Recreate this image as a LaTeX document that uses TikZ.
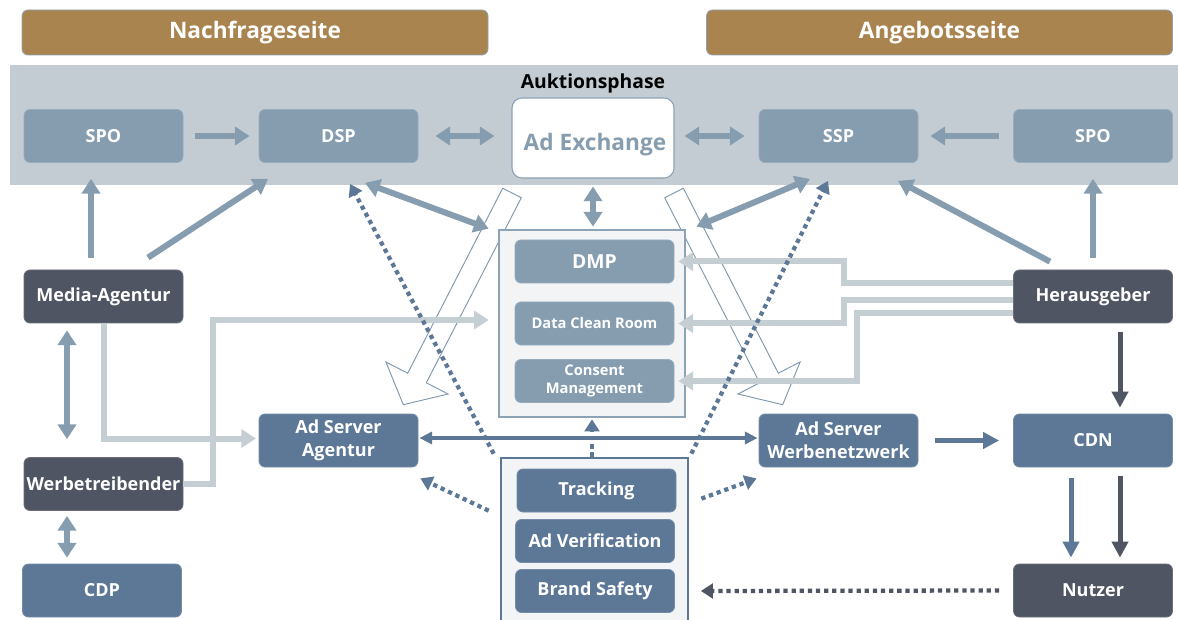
\documentclass[tikz,border=0pt]{standalone}
\usepackage{fontspec}
\setmainfont{Open Sans}
\usetikzlibrary{arrows.meta,calc}
\definecolor{hdrbrown}{HTML}{A9844F}
\definecolor{bandgray}{HTML}{C3CCD2}
\definecolor{midblue}{HTML}{869DB0}
\definecolor{steel}{HTML}{5C7896}
\definecolor{slate}{HTML}{4F5562}
\definecolor{lightarrow}{HTML}{C5CED3}
\definecolor{grpfill}{HTML}{F2F4F6}
\definecolor{grpline}{HTML}{8CA2B5}
\definecolor{hollowline}{HTML}{7F98AD}
\tikzset{
  box/.style={rounded corners=4.5pt, minimum width=119.25pt, minimum height=39.75pt,
    inner sep=0pt, text=white, align=center, draw=#1!85!white, line width=0.6pt, fill=#1,
    font=\bfseries\fontsize{13.5}{17.5}\selectfont},
  smallbox/.style={box=#1, minimum height=32.25pt},
  hdr/.style={rounded corners=4.5pt, minimum width=349.5pt, minimum height=33.75pt,
    fill=hdrbrown, draw=grpline, line width=0.6pt, text=white,
    font=\bfseries\fontsize{17}{20}\selectfont},
  grp/.style={fill=grpfill, draw=#1, line width=2pt, inner sep=0pt},
  arrA/.style={draw=midblue, line width=4.5pt, -{Triangle[width=13.5pt,length=11pt]}},
  arrAA/.style={draw=midblue, line width=4.5pt, {Triangle[width=13.5pt,length=11pt]}-{Triangle[width=13.5pt,length=11pt]}},
  arrG/.style={draw=lightarrow, line width=4.5pt, -{Triangle[width=13.5pt,length=11pt]}},
  arrD/.style={draw=slate, line width=3.75pt, -{Triangle[width=12pt,length=12pt]}},
  arrS/.style={draw=steel, line width=3.75pt, -{Triangle[width=12pt,length=12pt]}},
  arrT/.style={draw=steel, line width=2.7pt, {Triangle[width=9pt,length=9.5pt]}-{Triangle[width=9pt,length=9.5pt]}},
  dotarr/.style={draw=#1, line width=3.2pt, dash pattern=on 3.2pt off 2.9pt, -{Triangle[width=11pt,length=9pt]}},
  hollow/.style={draw=hollowline, line width=0.7pt, fill=white},
}
\begin{document}
\begin{tikzpicture}[x=0.75pt,y=-0.75pt]
\useasboundingbox (0,0) rectangle (1178,620);
\fill[white] (0,0) rectangle (1178,620);

% auction band and side headers
\fill[bandgray] (10,65) rectangle (1178,185);
\node[hdr] (hdrL) at (255,32.5) {Nachfrageseite};
\node[hdr] (hdrR) at (939.5,32.5) {Angebotsseite};
\node[font=\bfseries\fontsize{14.5}{17}\selectfont, text=black] (auk) at (593,83) {Auktionsphase};

% open block arrows from the exchange
\draw[hollow] (502.7,188.2) -- (407.7,373.2) -- (385.9,362) -- (403.3,404.7)
  -- (448.1,394) -- (426.3,382.8) -- (521.3,197.8) -- cycle;
\draw[hollow] (683.3,188.2) -- (778.3,373.2) -- (800.1,362) -- (782.7,404.7)
  -- (737.9,394) -- (759.7,382.8) -- (664.7,197.8) -- cycle;

% group frames
\node[grp=grpline, minimum width=139.5pt, minimum height=140.25pt] (dmpgrp) at (592,323.5) {};
\node[grp=steel, minimum width=140.25pt, minimum height=129pt] (trkgrp) at (594.5,544) {};

% auction row
\node[box=midblue] (spoL) at (103.5,136) {SPO};
\node[box=midblue] (dsp) at (338.5,136) {DSP};
\node[rounded corners=7.5pt, minimum width=121.5pt, minimum height=60pt, fill=white,
  draw=grpline, line width=0.8pt] (adex) at (593,138) {};
\node[text=midblue, font=\bfseries\fontsize{17}{20}\selectfont] (adextxt)
  at ($(adex.center)+(2,7)$) {Ad Exchange};
\node[box=midblue] (ssp) at (838.5,136) {SSP};
\node[box=midblue] (spoR) at (1093,136) {SPO};

% demand side actors
\node[box=slate] (media) at (103.5,296.5) {Media-Agentur};
\node[box=slate] (werb) at (103.5,484) {Werbetreibender};
\node[box=steel] (cdp) at (102,590.5) {CDP};
\node[box=steel] (asa) at (338.5,440.5) {Ad Server\\Agentur};

% supply side actors
\node[box=steel] (asw) at (838.5,440.5) {Ad Server\\Werbenetzwerk};
\node[box=steel] (cdn) at (1093,440.5) {CDN};
\node[box=slate] (her) at (1093,296.5) {Herausgeber};
\node[box=slate] (nutzer) at (1093,590.5) {Nutzer};

% data services
\node[smallbox=midblue, font=\bfseries\fontsize{14.5}{17}\selectfont] (dmp) at (594.5,261.5) {DMP};
\node[smallbox=midblue, font=\bfseries\fontsize{11}{14}\selectfont] (dcr) at (594.5,323.5) {Data Clean Room};
\node[smallbox=midblue, font=\bfseries\fontsize{11}{14}\selectfont] (cons) at (594.5,381) {Consent\\Management};

% measurement services
\node[smallbox=steel, font=\bfseries\fontsize{13.5}{17}\selectfont] (trk) at (596.5,490.5) {Tracking};
\node[smallbox=steel, font=\bfseries\fontsize{13.5}{17}\selectfont] (aver) at (595,541) {Ad Verification};
\node[smallbox=steel, font=\bfseries\fontsize{13.5}{17}\selectfont] (bsafe) at (595,591) {Brand Safety};

% data feeds
\draw[arrG, shorten >=2pt] (media.south) |- ($(asa.west)+(0,-2)$);
\draw[arrG, shorten >=6.75pt] (werb.east) -- ++(30,0) |- ($(dmpgrp.west)+(0,-3.5)$);
\draw[arrG, shorten >=3pt] ($(her.west)+(0,-13.5)$) -| ($(dmp.east)+(170,0)$) -- (dmp.east);
\draw[arrG, shorten >=3pt] ($(her.west)+(0,3.5)$) -| ($(dcr.east)+(170,0)$) -- (dcr.east);
\draw[arrG, shorten >=3pt] ($(her.west)+(0,16.5)$) -| ($(cons.east)+(183,0)$) -- (cons.east);

% auction flows
\draw[arrA, shorten <=9pt, shorten >=6.75pt] (spoL.east) -- (dsp.west);
\draw[arrAA, shorten <=12.75pt, shorten >=12.75pt] (dsp.east) -- (dsp.east -| adex.west);
\draw[arrAA, shorten <=7.5pt, shorten >=10.5pt] (ssp.west -| adex.east) -- (ssp.west);
\draw[arrA, shorten <=10.5pt, shorten >=9pt] (spoR.west) -- (ssp.east);
\draw[arrA] ($(media.north)+(-12.5,-12)$) -- ($(spoL.south)+(-12.5,16)$);
\draw[arrA] ($(media.north)+(44.5,-12)$) -- ($(dsp.south)+(-70.5,16)$);
\draw[arrAA] ($(media.south)+(-36.5,7)$) -- ($(werb.north)+(-36.5,-18)$);
\draw[arrAA] ($(werb.south)+(-36.5,5)$) -- ($(cdp.north)+(-35,-6)$);
\draw[arrAA] ($(dsp.south)+(26.5,20)$) -- ($(dmpgrp.north west)+(-9,0)$);
\draw[arrAA] ($(ssp.south)+(-28.5,16)$) -- ($(dmpgrp.north east)+(10,-2)$);
\draw[arrAA, shorten <=6pt, shorten >=1.5pt] (adex.south) -- (adex.south |- dmpgrp.north);
\draw[arrA] ($(her.north)+(-43,-8)$) -- ($(ssp.south)+(59.5,18)$);
\draw[arrA] ($(her.north)+(0,-12)$) -- ($(spoR.south)+(0,16)$);

% delivery flows
\draw[arrD] ($(her.south)+(27,9)$) -- ($(cdn.north)+(27,-6)$);
\draw[arrS] ($(cdn.south)+(-22,11)$) -- ($(nutzer.north)+(-22,-6)$);
\draw[arrD] ($(cdn.south)+(27,9)$) -- ($(nutzer.north)+(27,-6)$);
\draw[arrS, shorten <=12.75pt, shorten >=10.5pt] (asw.east) -- (cdn.west);
\draw[arrT, shorten <=0.75pt, shorten >=0.75pt] ($(asa.east)+(0,-2.5)$) -- ($(asw.west)+(0,-2.5)$);

% measurement signals
\coordinate (tL) at ($(trkgrp.north west)+(-11,54)$);
\coordinate (tR) at ($(trkgrp.north east)+(12,42)$);
\coordinate (tLL) at ($(trkgrp.north west)+(-6,-3)$);
\coordinate (tRR) at ($(trkgrp.north east)+(2,-3)$);
\coordinate (uS) at ($(nutzer.west)+(-14,0)$);
\draw[dotarr=steel, shorten >=0.75pt] ($(trkgrp.north)+(-2.5,0)$) -- ($(dmpgrp.south)+(0,0)$);
\draw[dotarr=steel] (tL) -- ($(asa.south east)+(2,11)$);
\draw[dotarr=steel] (tR) -- ($(asw.south west)+(-2,11)$);
\draw[dotarr=steel] (tLL) -- ($(dsp.south)+(11.5,21)$);
\draw[dotarr=steel] (tRR) -- ($(ssp.south)+(-10.5,18)$);
\draw[dotarr=slate] (uS) -- ($(bsafe.east)+(26,0)$);
\end{tikzpicture}
\end{document}
